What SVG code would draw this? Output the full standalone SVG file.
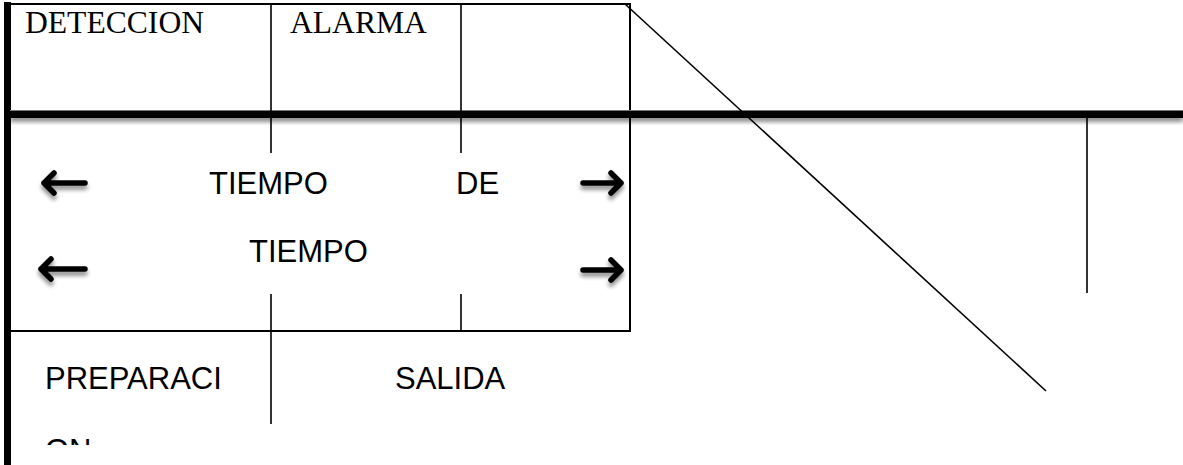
<svg xmlns="http://www.w3.org/2000/svg" width="1183" height="465" viewBox="0 0 1183 465">
  <style>
    .serif { font-family: "Liberation Serif", "Times New Roman", serif; font-size: 31.6px; fill: #000; }
    .sans { font-family: "Liberation Sans", Arial, sans-serif; font-size: 31px; fill: #000; }
    .thin { stroke: #000; stroke-width: 2; fill: none; }
    .hair { stroke: #000; stroke-width: 1.6; fill: none; }
    .arrow { stroke: #000; stroke-width: 5.5; fill: none; stroke-linecap: round; stroke-linejoin: round; }
  </style>
  <defs>
    <filter id="shadow" x="-30%" y="-50%" width="160%" height="250%">
      <feGaussianBlur in="SourceAlpha" stdDeviation="2"/>
      <feOffset dx="0" dy="4" result="b"/>
      <feComponentTransfer><feFuncA type="linear" slope="0.45"/></feComponentTransfer>
      <feMerge><feMergeNode/><feMergeNode in="SourceGraphic"/></feMerge>
    </filter>
    <clipPath id="clipON"><rect x="0" y="0" width="300" height="445"/></clipPath>
  </defs>
  <rect width="1183" height="465" fill="#fff"/>

  <g id="frame">
    <rect x="4" y="2" width="7" height="463" fill="#000"/>
    <line class="thin" x1="10" y1="4" x2="631" y2="4"/>
    <line class="thin" x1="630" y1="3" x2="630" y2="331"/>
    <line class="thin" x1="10" y1="331" x2="631" y2="331"/>
    <line x1="10" y1="110.5" x2="1183" y2="110.5" stroke="#777" stroke-width="1"/>
    <g filter="url(#shadow)">
      <rect x="10" y="111" width="1173" height="7" fill="#000"/>
    </g>
  </g>

  <g id="connectors">
    <line class="hair" x1="271" y1="4" x2="271" y2="153"/>
    <line class="hair" x1="461" y1="4" x2="461" y2="153"/>
    <line class="hair" x1="271" y1="294" x2="271" y2="424"/>
    <line class="hair" x1="461" y1="294" x2="461" y2="331"/>
    <line class="hair" x1="1087" y1="118" x2="1087" y2="293"/>
    <line class="hair" x1="625" y1="4" x2="1046" y2="391"/>
  </g>

  <g id="arrows" filter="url(#shadow)">
    <path class="arrow" d="M85,183 H44 M54,173 L44,183 L54,193"/>
    <path class="arrow" d="M85,269 H41 M51,259 L41,269 L51,279"/>
    <path class="arrow" d="M583,183 H621 M611,173 L621,183 L611,193"/>
    <path class="arrow" d="M583,270 H621 M611,260 L621,270 L611,280"/>
  </g>

  <g id="deteccion"><text class="serif" x="25" y="33">DETECCION</text></g>
  <g id="alarma"><text class="serif" x="290" y="33">ALARMA</text></g>
  <g id="tiempo-de"><text class="sans" x="209" y="194">TIEMPO</text><text class="sans" x="456" y="194">DE</text></g>
  <g id="tiempo"><text class="sans" x="249" y="262">TIEMPO</text></g>
  <g id="preparacion">
    <text class="sans" x="45" y="389">PREPARACI</text>
    <text class="sans" x="45" y="461" clip-path="url(#clipON)">ON</text>
  </g>
  <g id="salida"><text class="sans" x="395" y="389">SALIDA</text></g>
</svg>
